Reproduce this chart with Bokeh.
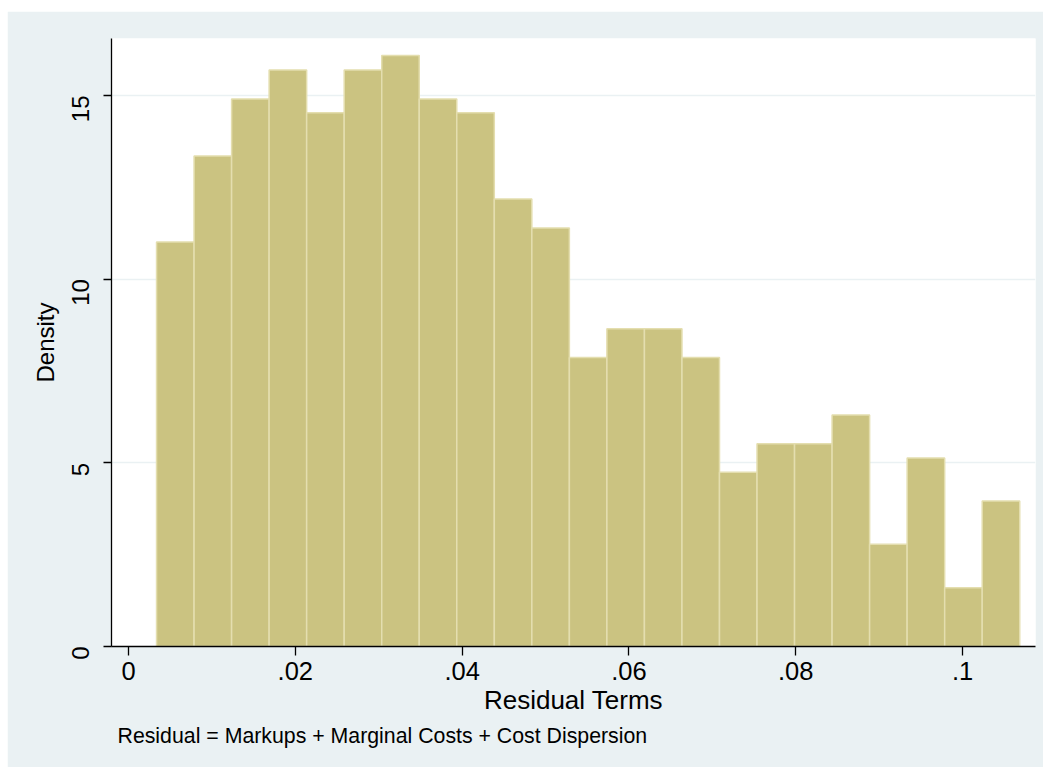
import math

from bokeh.embed import file_html
from bokeh.models import FixedTicker, Range1d, Title
from bokeh.plotting import figure
from bokeh.resources import INLINE

# Histogram of residual terms: bin edges and densities
bin_start = 0.00336
bin_width = 0.0045
density = [11.01, 13.35, 14.90, 15.69, 14.53, 15.69, 16.09, 14.90, 14.53, 12.18,
           11.39, 7.87, 8.65, 8.65, 7.87, 4.74, 5.52, 5.52, 6.30, 2.78,
           5.13, 1.60, 3.96]

xtick_values = [0, 0.02, 0.04, 0.06, 0.08, 0.1]
xtick_labels = ["0", ".02", ".04", ".06", ".08", ".1"]
ytick_values = [0, 5, 10, 15]
ytick_labels = ["0", "5", "10", "15"]
grid_values = [5, 10, 15]

x_title = "Residual Terms"
y_title = "Density"
note_text = "Residual = Markups + Marginal Costs + Cost Dispersion"

FONT = "Liberation Sans"
REGION = "#EAF1F3"
BAR_FILL = "#CBC381"
BAR_LINE = "#E4DEAF"

lefts = [bin_start + i * bin_width for i in range(len(density))]
rights = [l + bin_width for l in lefts]

p = figure(
    width=1036, height=756,
    x_range=Range1d(-0.00204, 0.10875),
    y_range=Range1d(0, 16.55),
    output_backend="svg",
    toolbar_location=None,
    min_border_left=104, min_border_right=8,
    min_border_top=27, min_border_bottom=121,
    background_fill_color="white",
    border_fill_color=REGION,
    outline_line_color=None,
    margin=(11, 6, 7, 7),
)

p.quad(left=lefts, right=rights, bottom=0, top=density,
       fill_color=BAR_FILL, line_color=BAR_LINE, line_width=1.5)

# grid: horizontal only, light lines at the labelled densities
p.xgrid.visible = False
p.ygrid.ticker = FixedTicker(ticks=grid_values)
p.ygrid.grid_line_color = REGION
p.ygrid.grid_line_width = 1.5

for ax in (p.xaxis[0], p.yaxis[0]):
    ax.axis_line_color = "black"
    ax.axis_line_width = 1.3
    ax.major_tick_line_color = "black"
    ax.major_tick_line_width = 1.3
    ax.major_tick_in = 0
    ax.minor_tick_line_color = None
    ax.major_label_text_font = FONT
    ax.major_label_text_color = "black"
    ax.axis_label_text_font = FONT
    ax.axis_label_text_font_style = "normal"
    ax.axis_label_text_color = "black"

xa = p.xaxis[0]
xa.ticker = FixedTicker(ticks=xtick_values)
xa.major_label_overrides = dict(zip(xtick_values, xtick_labels))
xa.major_tick_out = 9
xa.major_label_standoff = 6
xa.major_label_text_font_size = "25.5px"
xa.axis_label = x_title
xa.axis_label_text_font_size = "26px"
xa.axis_label_standoff = 2

ya = p.yaxis[0]
ya.ticker = FixedTicker(ticks=ytick_values)
ya.major_label_overrides = dict(zip(ytick_values, ytick_labels))
ya.major_tick_out = 8
ya.major_label_orientation = math.pi / 2
ya.major_label_standoff = 23
ya.major_label_text_font_size = "24px"
ya.axis_label = y_title
ya.axis_label_text_font_size = "24px"
ya.axis_label_standoff = 2

note = Title(text=note_text, align="left", offset=6, standoff=9,
             text_font=FONT, text_font_size="21.3px",
             text_font_style="normal", text_color="black")
p.add_layout(note, "below")

open("out.html", "w").write(file_html(p, INLINE))
